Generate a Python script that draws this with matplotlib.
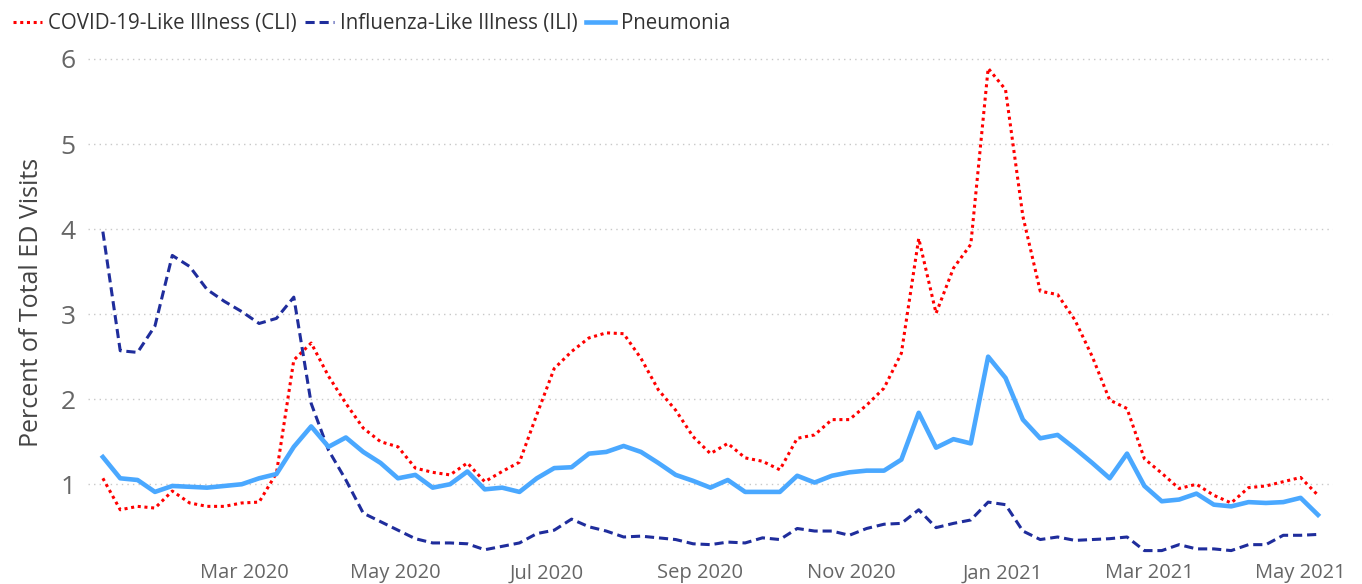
import matplotlib
matplotlib.use("Agg")
import matplotlib.pyplot as plt
import matplotlib.dates as mdates
import pandas as pd

# weekly values, weeks ending 2020-01-04 .. 2021-05-08
weeks = pd.date_range("2020-01-04", periods=71, freq="7D")
tick_dates = pd.to_datetime(["2020-03-01", "2020-05-01", "2020-07-01", "2020-09-01",
                             "2020-11-01", "2021-01-01", "2021-03-01", "2021-05-01"])

cli = [1.07, 0.70, 0.74, 0.72, 0.92, 0.78, 0.74, 0.74, 0.78, 0.79,
       1.13, 2.46, 2.66, 2.27, 1.95, 1.66, 1.50, 1.44, 1.19, 1.14,
       1.11, 1.25, 1.03, 1.15, 1.26, 1.82, 2.36, 2.56, 2.72, 2.78,
       2.77, 2.48, 2.11, 1.87, 1.56, 1.36, 1.48, 1.31, 1.27, 1.17,
       1.54, 1.58, 1.76, 1.76, 1.93, 2.13, 2.54, 3.89, 3.01, 3.54,
       3.82, 5.89, 5.64, 4.15, 3.27, 3.23, 2.93, 2.50, 1.99, 1.89,
       1.30, 1.13, 0.95, 1.00, 0.87, 0.78, 0.96, 0.98, 1.03, 1.08,
       0.87]

ili = [3.97, 2.57, 2.55, 2.86, 3.69, 3.56, 3.29, 3.15, 3.03, 2.89,
       2.95, 3.20, 1.95, 1.40, 1.05, 0.66, 0.56, 0.46, 0.36, 0.31,
       0.31, 0.30, 0.23, 0.27, 0.31, 0.42, 0.46, 0.59, 0.50, 0.45,
       0.38, 0.39, 0.37, 0.35, 0.30, 0.29, 0.32, 0.31, 0.37, 0.35,
       0.48, 0.45, 0.45, 0.40, 0.48, 0.53, 0.54, 0.70, 0.49, 0.54,
       0.58, 0.79, 0.76, 0.45, 0.35, 0.38, 0.34, 0.35, 0.36, 0.38,
       0.22, 0.22, 0.29, 0.24, 0.24, 0.22, 0.29, 0.29, 0.40, 0.40,
       0.41]

pneumonia = [1.32, 1.07, 1.05, 0.91, 0.98, 0.97, 0.96, 0.98, 1.00, 1.07,
             1.12, 1.44, 1.68, 1.44, 1.55, 1.38, 1.25, 1.07, 1.11, 0.96,
             1.00, 1.15, 0.94, 0.96, 0.91, 1.07, 1.19, 1.20, 1.36, 1.38,
             1.45, 1.38, 1.25, 1.11, 1.04, 0.96, 1.05, 0.91, 0.91, 0.91,
             1.10, 1.02, 1.10, 1.14, 1.16, 1.16, 1.29, 1.84, 1.43, 1.53,
             1.48, 2.50, 2.25, 1.76, 1.54, 1.58, 1.42, 1.25, 1.07, 1.36,
             0.98, 0.80, 0.82, 0.89, 0.76, 0.74, 0.79, 0.78, 0.79, 0.84,
             0.64]

plt.rcParams["font.family"] = ["Open Sans", "DejaVu Sans"]

fig = plt.figure(figsize=(13.62, 5.84), dpi=100)
ax = fig.add_axes([0.0646, 0.047, 0.914, 0.871])

ax.plot(weeks, cli, color="#ff0000", linestyle=(0, (1, 1.2)), linewidth=2.2,
        label="COVID-19-Like Illness (CLI)")
ax.plot(weeks, ili, color="#1f2d9c", linestyle=(0, (3, 1.6)), linewidth=2.2,
        label="Influenza-Like Illness (ILI)")
ax.plot(weeks, pneumonia, color="#4aa8ff", linewidth=3.3, label="Pneumonia")

ax.set_xlim(pd.Timestamp("2019-12-29"), pd.Timestamp("2021-05-14"))
ax.set_ylim(0.15, 6.13)
ax.set_yticks([1, 2, 3, 4, 5, 6])
ax.set_xticks(tick_dates)
ax.xaxis.set_major_formatter(mdates.DateFormatter("%b %Y"))

ax.grid(axis="y", linestyle=(0, (1, 3)), color="#c8c8c8", linewidth=1)
ax.set_axisbelow(True)
for s in ax.spines.values():
    s.set_visible(False)
ax.tick_params(axis="y", length=0, pad=9, labelsize=19, labelcolor="#666666")
ax.tick_params(axis="x", length=0, pad=5, labelsize=14.5, labelcolor="#666666")
ax.set_ylabel("Percent of Total ED Visits", fontsize=18, color="#444444", labelpad=12)

fig.legend(loc="upper left", bbox_to_anchor=(0.0, 1.0), ncol=3, frameon=False,
           fontsize=14.8, handlelength=1.4, handletextpad=0.3, columnspacing=0.4,
           borderaxespad=0.25, labelcolor="#333333")

fig.savefig("out.png", dpi=100)
